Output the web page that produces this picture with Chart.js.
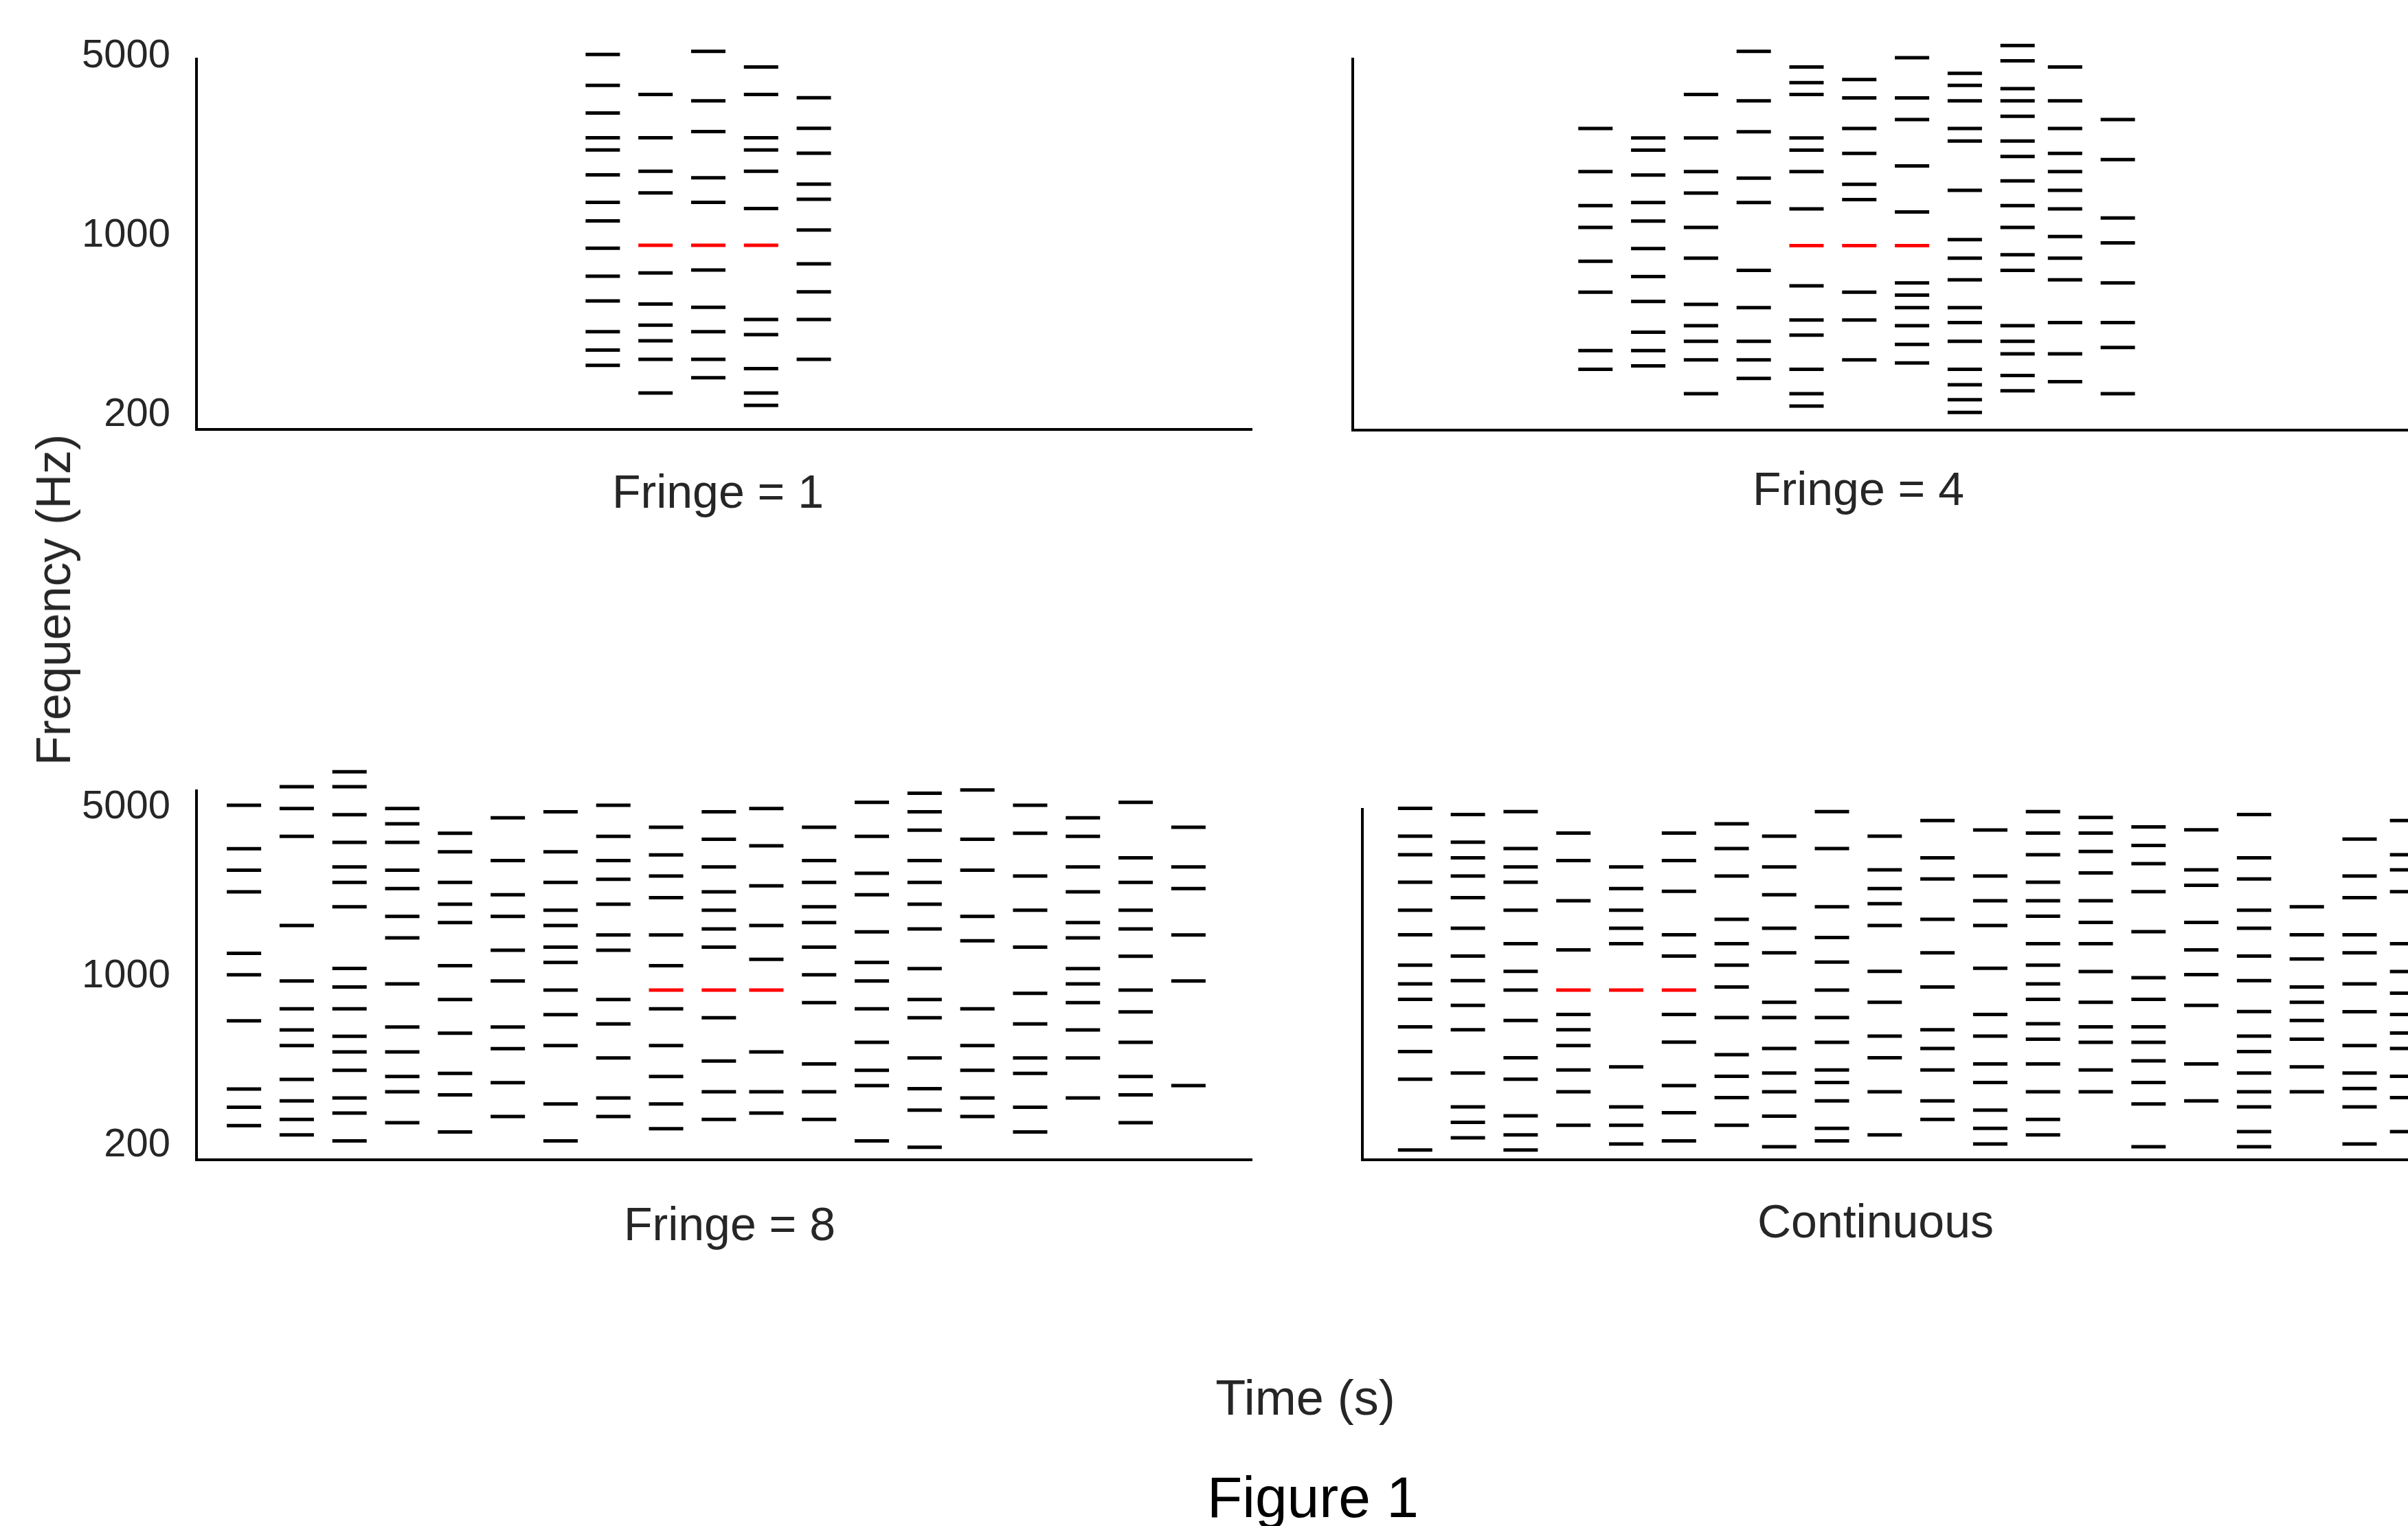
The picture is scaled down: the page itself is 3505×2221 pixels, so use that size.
<!DOCTYPE html>
<html>
<head>
<meta charset="utf-8">
<title>Figure 1</title>
<script src="https://cdn.jsdelivr.net/npm/chart.js"></script>
<style>
    html, body { margin: 0; padding: 0; background: #fff; }
    body { position: relative; width: 3505px; height: 2221px; overflow: hidden; }
    canvas { position: absolute; }
    .lbl {
        position: absolute;
        transform: translate(-50%, -50%);
        line-height: 1;
        white-space: nowrap;
        font-family: "Liberation Sans", Arial, sans-serif;
        color: #262626;
    }
</style>
</head>
<body>

<canvas id="fringe1" width="1850" height="705" style="left:0px; top:0px"></canvas>
<canvas id="fringe4" width="1596" height="640" style="left:1909px; top:0px"></canvas>
<canvas id="fringe8" width="1850" height="697" style="left:0px; top:1071px"></canvas>
<canvas id="continuous" width="1616" height="600" style="left:1923px; top:1100px"></canvas>

<div class="lbl" style="left:1045px; top:715px; font-size:68px">Fringe = 1</div>
<div class="lbl" style="left:2705px; top:711px; font-size:68px">Fringe = 4</div>
<div class="lbl" style="left:1062px; top:1781px; font-size:68px">Fringe = 8</div>
<div class="lbl" style="left:2730px; top:1777px; font-size:68px">Continuous</div>
<div class="lbl" style="left:78px; top:873px; font-size:70px; transform: translate(-50%, -50%) rotate(-90deg)">Frequency (Hz)</div>
<div class="lbl" style="left:1900px; top:2034px; font-size:72px">Time (s)</div>
<div class="lbl" style="left:1911px; top:2179px; font-size:84px; color:#000">Figure 1</div>

<script>
// tone frequencies (Hz) per burst, one inner array per time column
const yTickValues = [200, 1000, 5000];
const targetFreq = 1000;

const fringe1Times = [0.77, 0.87, 0.97, 1.07, 1.17];
const fringe1Freqs = [
    [5530, 4190, 3270, 2620, 2350, 1880, 1470, 1245, 974, 758, 607, 461, 391, 341],
    [3865, 2620, 1940, 1600, 780, 591, 489, 425, 360, 266],
    [5680, 3650, 2770, 1830, 1470, 801, 574, 461, 360, 305],
    [4940, 3865, 2620, 2350, 1940, 1390, 514, 449, 331, 266, 238],
    [3750, 2850, 2280, 1730, 1510, 1146, 847, 659, 514, 360]
];
const fringe1Target = [0.87, 0.97, 1.07];

const fringe4Times = [0.46, 0.56, 0.66, 0.76, 0.86, 0.96, 1.06, 1.16, 1.26, 1.35, 1.45];
const fringe4Freqs = [
    [2850, 1940, 1430, 1177, 870, 659, 391, 331],
    [2620, 2350, 1880, 1470, 1245, 974, 758, 607, 461, 391, 341],
    [3865, 2620, 1940, 1600, 1177, 894, 591, 489, 425, 360, 266],
    [5680, 3650, 2770, 1830, 1470, 801, 574, 425, 360, 305],
    [4940, 4300, 3865, 2620, 2350, 1940, 1390, 698, 514, 449, 331, 266, 238],
    [4420, 3750, 2850, 2280, 1730, 1510, 659, 514, 360],
    [5370, 3750, 3090, 2040, 1352, 716, 642, 574, 489, 413, 350],
    [4670, 4190, 3650, 2850, 2550, 1640, 1055, 894, 737, 574, 502, 425, 331, 288, 252, 225],
    [5990, 5220, 4070, 3650, 3180, 2550, 2220, 1785, 1430, 1177, 921, 801, 489, 425, 380, 313, 273],
    [4940, 3650, 2850, 2280, 1940, 1640, 1390, 1084, 894, 737, 502, 380, 296],
    [3090, 2160, 1280, 1025, 716, 502, 402, 266]
];
const fringe4Target = [0.86, 0.96, 1.06];

const fringe8Times = [0.09, 0.19, 0.29, 0.39, 0.49, 0.59, 0.69, 0.79, 0.89, 0.99,
                      1.08, 1.18, 1.28, 1.38, 1.48, 1.58, 1.68, 1.78, 1.88];
const fringe8Freqs = [
    [5810, 3840, 3130, 2550, 1420, 1156, 746, 390, 328, 275],
    [6930, 5630, 4320, 1850, 1091, 836, 684, 590, 427, 348, 292, 252],
    [7990, 6930, 5310, 4080, 3230, 2790, 2210, 1228, 1029, 836, 644, 555, 466, 358, 310, 238],
    [5630, 4870, 4080, 3130, 2630, 2017, 1645, 1060, 704, 555, 439, 380, 283],
    [4450, 3730, 2790, 2265, 1900, 1262, 914, 663, 452, 369, 259],
    [5160, 3430, 2480, 2017, 1462, 1091, 704, 572, 414, 300],
    [5460, 3730, 2790, 2140, 1850, 1504, 1301, 1000, 791, 590, 338, 238],
    [5810, 4320, 3430, 2870, 2265, 1690, 1462, 914, 725, 524, 358, 300],
    [4710, 3620, 2960, 2410, 1690, 1262, 836, 590, 439, 338, 267],
    [5460, 4200, 3230, 2550, 2140, 1790, 1504, 769, 509, 380, 292],
    [5630, 3950, 2700, 1850, 1340, 555, 380, 310],
    [4710, 3430, 2790, 2210, 1900, 1504, 1156, 888, 495, 380, 292],
    [5970, 4320, 3040, 2480, 1740, 1301, 1091, 836, 608, 466, 403, 238],
    [6520, 5460, 4580, 3430, 2790, 2265, 1790, 1226, 914, 769, 524, 391, 319, 224],
    [6720, 4200, 3130, 2017, 1600, 836, 590, 466, 358, 300],
    [5810, 4450, 2960, 2140, 1504, 969, 725, 524, 452, 328, 259],
    [5160, 4320, 3230, 2550, 1900, 1645, 1226, 1060, 888, 684, 524, 358],
    [5970, 3520, 2790, 2140, 1790, 1380, 1000, 812, 608, 439, 369, 283],
    [4710, 3230, 2630, 1690, 1091, 403]
];
const fringe8Target = [0.89, 0.99, 1.08];

const contTimes = [0.10, 0.20, 0.30, 0.40, 0.50, 0.60, 0.70, 0.79, 0.89, 0.99,
                   1.09, 1.19, 1.29, 1.39, 1.49, 1.59, 1.69, 1.79, 1.89, 1.98];
const contFreqs = [
    [5640, 4330, 3630, 2790, 2140, 1694, 1267, 1060, 916, 705, 557, 428, 218],
    [5320, 4090, 3520, 2960, 2410, 1800, 1383, 1094, 864, 685, 454, 329, 284, 245],
    [5470, 3850, 3230, 2790, 2140, 1555, 1195, 1000, 748, 525, 428, 302, 252, 218],
    [4460, 3430, 2340, 1467, 793, 685, 590, 467, 380, 276],
    [3230, 2630, 2140, 1800, 1555, 481, 329, 276, 231],
    [4460, 3430, 2560, 1694, 1383, 793, 609, 403, 311, 238],
    [4870, 3850, 2960, 1960, 1555, 1267, 1030, 770, 541, 440, 359, 276],
    [4330, 3230, 2480, 1800, 1425, 890, 770, 573, 454, 380, 301, 225],
    [5470, 3850, 2210, 1649, 1305, 1000, 770, 608, 467, 415, 348, 268, 238],
    [4330, 3140, 2630, 2276, 1850, 1195, 890, 645, 525, 380, 252],
    [5020, 3520, 2880, 1960, 1425, 1030, 685, 573, 467, 348, 292],
    [4590, 2960, 2340, 1850, 1230, 793, 645, 495, 415, 319, 268, 231],
    [5470, 4460, 3630, 2790, 2340, 2020, 1555, 1267, 1060, 916, 726, 626, 495, 380, 292, 252],
    [5170, 4460, 3740, 3050, 2340, 1905, 1555, 1192, 890, 705, 608, 467, 380],
    [4730, 3960, 3330, 2550, 1744, 1124, 916, 705, 608, 510, 415, 338, 225],
    [4600, 3140, 2710, 1905, 1467, 1158, 864, 495, 348],
    [5320, 3520, 2880, 2140, 1800, 1383, 1094, 815, 645, 557, 454, 380, 329, 260, 225],
    [2210, 1694, 1344, 1030, 890, 748, 626, 481, 380],
    [4210, 2960, 2410, 1694, 1425, 1060, 813, 590, 454, 392, 329, 231],
    [5020, 3630, 3140, 2550, 1555, 1192, 971, 793, 664, 573, 440, 359, 260]
];
const contTarget = [0.40, 0.50, 0.60];

const FONT = '"Liberation Sans", Arial, sans-serif';
Chart.defaults.font.family = FONT;

function dashPoints(times, freqs) {
    let pts = [];
    times.forEach((t, i) => {
        freqs[i].forEach(f => pts.push({ x: t, y: f }));
    });
    return pts;
}

function dashSet(points, color) {
    return {
        data: points,
        showLine: false,
        clip: false,
        pointStyle: 'line',
        pointRadius: 25,
        pointHoverRadius: 25,
        pointBorderWidth: 5,
        pointBorderColor: color,
        pointBackgroundColor: color
    };
}

function makePanel(id, times, freqs, target, yRange, axisWidth, showTicks, labelShift, padding) {

    const canvas = document.getElementById(id);

    return new Chart(canvas, {
        type: 'scatter',
        data: {
            datasets: [
                dashSet(dashPoints(times, freqs), '#000000'),
                dashSet(target.map(t => ({ x: t, y: targetFreq })), '#ff0000')
            ]
        },
        options: {
            responsive: false,
            animation: false,
            devicePixelRatio: 1,
            events: [],
            layout: { padding: padding, autoPadding: false },
            plugins: {
                legend: { display: false },
                tooltip: { enabled: false }
            },
            scales: {
                x: {
                    type: 'linear',
                    min: 0,
                    max: 2,
                    grid: { display: false, drawTicks: false, tickLength: 0 },
                    border: { display: true, color: '#000', width: 4 },
                    ticks: { display: false },
                    afterFit: (scale) => { scale.height = 0; }
                },
                y: {
                    type: 'logarithmic',
                    min: yRange[0],
                    max: yRange[1],
                    grid: { display: false, drawTicks: false, tickLength: 0 },
                    border: { display: true, color: '#000', width: 4 },
                    afterBuildTicks: (scale) => {
                        scale.ticks = yTickValues.map(v => ({ value: v }));
                    },
                    afterFit: (scale) => { scale.width = axisWidth; },
                    ticks: {
                        display: showTicks,
                        padding: 38,
                        labelOffset: labelShift,
                        color: '#262626',
                        major: { enabled: false },
                        font: { family: FONT, size: 58 },
                        callback: (v) => String(v)
                    }
                }
            }
        }
    });
}

makePanel('fringe1', fringe1Times, fringe1Freqs, fringe1Target, [192, 5320], 286, true, -14,
    { left: 0, top: 85.5, right: 28, bottom: 80 });
makePanel('fringe4', fringe4Times, fringe4Freqs, fringe4Target, [192, 5320], 60, false, 0,
    { left: 0, top: 85.5, right: 0, bottom: 14 });
makePanel('fringe8', fringe8Times, fringe8Freqs, fringe8Target, [198.7, 6666], 286, true, -20,
    { left: 0, top: 80, right: 28, bottom: 80 });
makePanel('continuous', contTimes, contFreqs, contTarget, [198.7, 5586], 60, false, 0,
    { left: 0, top: 78, right: 20, bottom: 12 });
</script>
</body>
</html>
